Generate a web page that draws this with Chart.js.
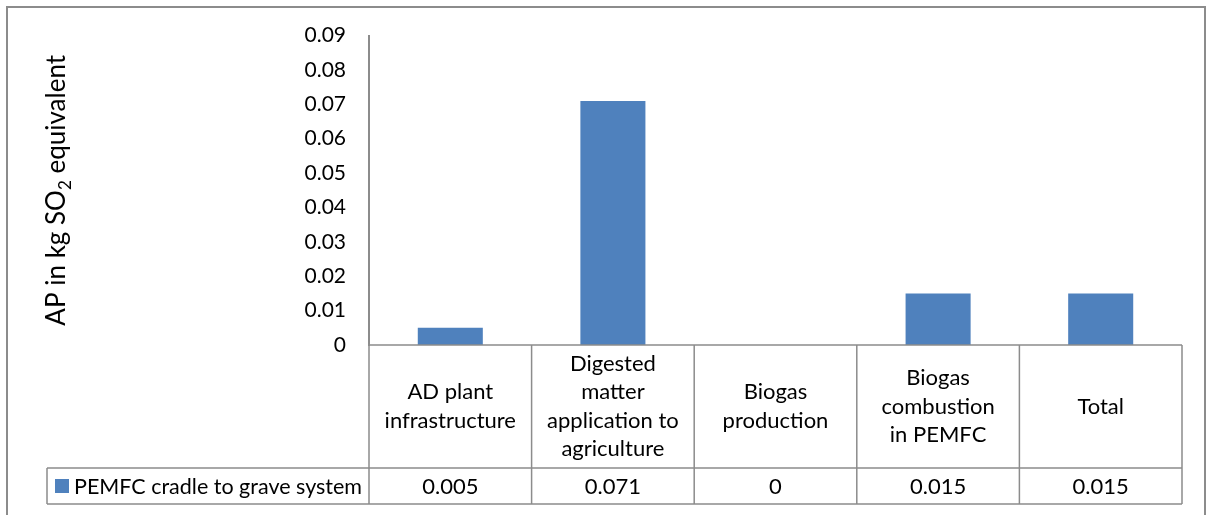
<!DOCTYPE html>
<html>
<head>
<meta charset="utf-8">
<script src="https://cdn.jsdelivr.net/npm/chart.js@4.4.1/dist/chart.umd.min.js"></script>
<style>
  html, body { margin: 0; padding: 0; background: #ffffff; }
  #wrap { width: 1209px; height: 515px; position: relative; }
</style>
</head>
<body>
<div id="wrap"><canvas id="chart" width="1209" height="515"></canvas></div>
<script>
// Life-cycle stages (each entry is the wrapped header text of a table column)
const categories = [
  ['AD plant', 'infrastructure'],
  ['Digested', 'matter', 'application to', 'agriculture'],
  ['Biogas', 'production'],
  ['Biogas', 'combustion', 'in PEMFC'],
  ['Total']
];
const seriesName = 'PEMFC cradle to grave system';
const apValues = [0.005, 0.071, 0, 0.015, 0.015];
const yTicks = [0, 0.01, 0.02, 0.03, 0.04, 0.05, 0.06, 0.07, 0.08, 0.09];

const FONT = 'Lato, "Open Sans", sans-serif';
const TEXT_SIZE = 22;
const LINE_COLOR = '#8c8c8c';
const BAR_COLOR = '#4f81bd';

// Draws the frame, the rotated axis title and the data table under the plot.
const tablePlugin = {
  id: 'dataTable',
  afterDraw(chart) {
    const ctx = chart.ctx;
    const area = chart.chartArea;
    const x = chart.scales.x;
    const n = categories.length;
    const colW = (area.right - area.left) / n;
    const headTop = area.bottom;
    const headBottom = headTop + 123;
    const rowBottom = headBottom + 36;
    const legendLeft = 47;

    ctx.save();
    // outer frame
    ctx.strokeStyle = LINE_COLOR;
    ctx.lineWidth = 2;
    ctx.strokeRect(7, 7, 1198, 600);

    // axis title with subscript
    ctx.save();
    ctx.translate(57, (area.top + area.bottom) / 2);
    ctx.rotate(-Math.PI / 2);
    ctx.fillStyle = '#000';
    ctx.textBaseline = 'middle';
    const big = '26px ' + FONT, small = '17px ' + FONT;
    const p1 = 'AP in kg SO', p2 = '2', p3 = ' equivalent';
    ctx.font = big; const w1 = ctx.measureText(p1).width, w3 = ctx.measureText(p3).width;
    ctx.font = small; const w2 = ctx.measureText(p2).width;
    let cx = -(w1 + w2 + w3) / 2;
    ctx.textAlign = 'left';
    ctx.font = big; ctx.fillText(p1, cx, 0); cx += w1;
    ctx.font = small; ctx.fillText(p2, cx, 9); cx += w2;
    ctx.font = big; ctx.fillText(p3, cx, 0);
    ctx.restore();

    // table grid
    ctx.strokeStyle = LINE_COLOR;
    ctx.lineWidth = 1.5;
    ctx.beginPath();
    ctx.moveTo(area.left, headTop); ctx.lineTo(area.right, headTop);
    ctx.moveTo(legendLeft, headBottom); ctx.lineTo(area.right, headBottom);
    ctx.moveTo(legendLeft, rowBottom); ctx.lineTo(area.right, rowBottom);
    ctx.moveTo(legendLeft, headBottom); ctx.lineTo(legendLeft, rowBottom);
    for (let i = 0; i <= n; i++) {
      const bx = area.left + i * colW;
      ctx.moveTo(bx, headTop); ctx.lineTo(bx, rowBottom);
    }
    ctx.stroke();

    // header text and values
    ctx.fillStyle = '#000';
    ctx.font = TEXT_SIZE + 'px ' + FONT;
    ctx.textAlign = 'center';
    ctx.textBaseline = 'middle';
    const lh = 28.5;
    for (let i = 0; i < n; i++) {
      const cxp = x.getPixelForValue(i);
      const lines = categories[i];
      const mid = (headTop + headBottom) / 2;
      lines.forEach((t, k) => {
        ctx.fillText(t, cxp, mid + (k - (lines.length - 1) / 2) * lh);
      });
      ctx.fillText(String(apValues[i]), cxp, (headBottom + rowBottom) / 2 + 1);
    }

    // legend key in the table
    const ry = (headBottom + rowBottom) / 2;
    ctx.fillStyle = BAR_COLOR;
    ctx.fillRect(55, ry - 7, 14, 14);
    ctx.fillStyle = '#000';
    ctx.textAlign = 'left';
    ctx.font = '21.5px ' + FONT;
    ctx.fillText(seriesName, 74, ry + 1);
    ctx.restore();
  }
};

new Chart(document.getElementById('chart'), {
  type: 'bar',
  data: {
    labels: categories,
    datasets: [{
      label: seriesName,
      data: apValues,
      backgroundColor: BAR_COLOR,
      borderWidth: 0,
      categoryPercentage: 1,
      barPercentage: 0.4
    }]
  },
  options: {
    responsive: false,
    animation: false,
    layout: { padding: { top: 35, right: 27, bottom: 170, left: 0 } },
    plugins: { legend: { display: false }, tooltip: { enabled: false } },
    scales: {
      x: { display: false },
      y: {
        min: 0,
        max: 0.09,
        afterFit(scale) { scale.width = 369; },
        afterBuildTicks(scale) { scale.ticks = yTicks.map(v => ({ value: v })); },
        grid: { display: false, drawTicks: false },
        border: { display: true, color: LINE_COLOR, width: 2 },
        ticks: {
          padding: 23,
          color: '#000',
          font: { family: FONT, size: 21 },
          callback: v => (v === 0 ? '0' : v.toFixed(2))
        }
      }
    }
  },
  plugins: [tablePlugin]
});
</script>
</body>
</html>
